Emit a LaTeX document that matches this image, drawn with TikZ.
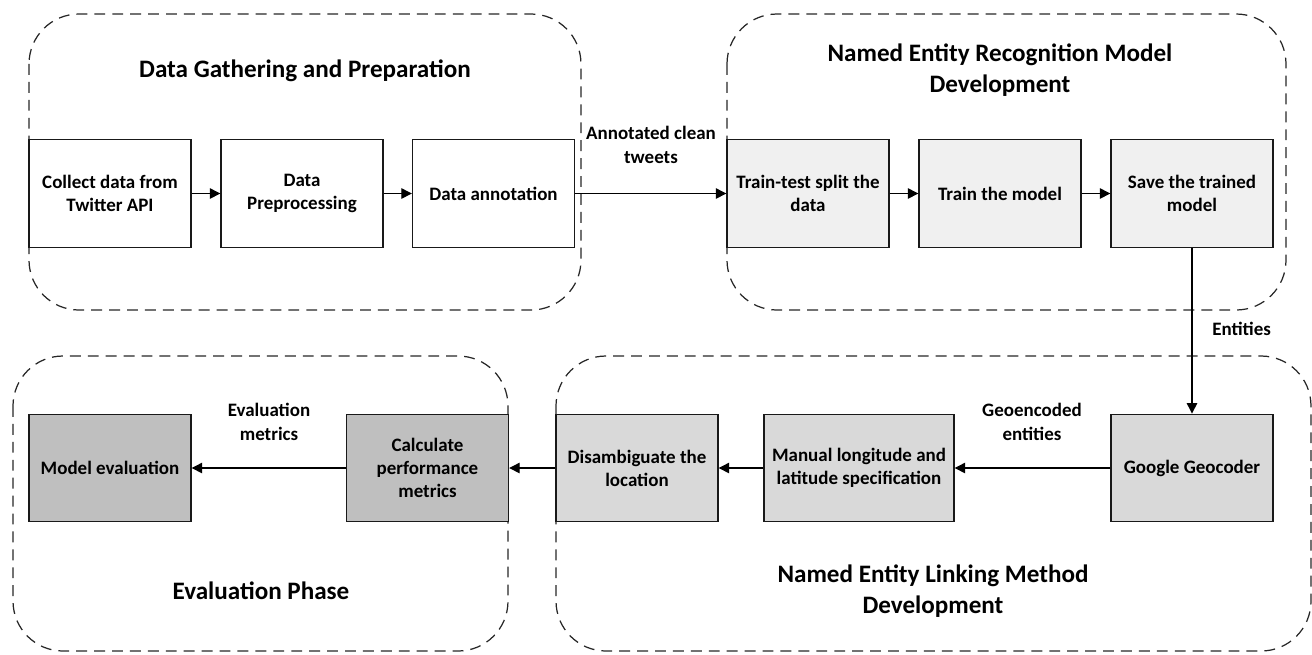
\documentclass[tikz,border=0pt]{standalone}
\usepackage{fontspec}
\setmainfont{Carlito}
\usepackage{xcolor}
\usepackage{tikz}
\usetikzlibrary{arrows.meta}
\tikzset{
    tnode/.style = {align=center, inner sep=0pt, text centered},
    box_node/.style = {tnode, rectangle, draw=black!90, line width=0.8pt, minimum width=3.24cm, minimum height=2.15cm, font=\fontsize{10.8}{13.2}\selectfont\bfseries},
    white_node/.style = {box_node, fill=white},
    light_node/.style = {box_node, fill=black!6},
    mid_node/.style = {box_node, fill=black!15},
    dark_node/.style = {box_node, fill=black!25},
    wide_node/.style = {minimum width=3.8cm},
    phase/.style = {draw=black!85, line width=0.7pt, dash pattern=on 6.2pt off 4pt, rounded corners=1cm},
    phase_title/.style = {tnode, font=\fontsize{14.3}{17.6}\selectfont\bfseries},
    edge_text/.style = {tnode, font=\fontsize{10.8}{13.6}\selectfont\bfseries}
}

\begin{document}
\begin{tikzpicture}
    [x=0.02cm, y=-0.02cm,
    >={Triangle[length=6pt, width=6pt]},
    flow/.style={->, line width=0.7pt, black}]

    \useasboundingbox (0,0) rectangle (1312,654);

    % dashed phases
    \draw [phase] (29,14) rectangle (581,310);
    \draw [phase] (727,14) rectangle (1286,310);
    \draw [phase] (13,356) rectangle (508,651);
    \draw [phase] (556,356) rectangle (1311,651);

    \node [phase_title] (gather_title) at (305,71) {Data Gathering and Preparation};
    \node [phase_title] (ner_title) at (1000,70) {Named Entity Recognition Model\\Development};
    \node [phase_title] (eval_title) at (261,591) {Evaluation Phase};
    \node [phase_title] (nel_title) at (933,591) {Named Entity Linking Method\\Development};

    % top row
    \node [white_node] (collect) at (110,193.5) {Collect data from\\Twitter API};
    \node [white_node] (prep) at (302,193.5) {Data\\Preprocessing};
    \node [white_node] (annot) at (493.5,193.5) {Data annotation};
    \node [light_node] (split) at (808,193.5) {Train-test split the\\data};
    \node [light_node] (train) at (1000,193.5) {Train the model};
    \node [light_node] (save) at (1192,193.5) {Save the trained\\model};

    % bottom row
    \node [dark_node] (model_eval) at (110,468) {Model evaluation};
    \node [dark_node] (metrics) at (427.5,468) {Calculate\\performance\\metrics};
    \node [mid_node] (disamb) at (637,468) {Disambiguate the\\location};
    \node [mid_node, wide_node] (manual) at (859,468) {Manual longitude and\\latitude specification};
    \node [mid_node] (geocoder) at (1192,468) {Google Geocoder};

    \draw [flow] (collect) -- (prep);
    \draw [flow] (prep) -- (annot);
    \draw [flow] (annot) -- (split);
    \draw [flow] (split) -- (train);
    \draw [flow] (train) -- (save);
    \draw [flow] (save) -- (geocoder);
    \draw [flow] (geocoder) -- (manual);
    \draw [flow] (manual) -- (disamb);
    \draw [flow] (disamb) -- (metrics);
    \draw [flow] (metrics) -- (model_eval);

    \node [edge_text] (tweets_text) at (651,145) {Annotated clean\\tweets};
    \node [edge_text, anchor=west] (entities_text) at (1212,329) {Entities};
    \node [edge_text] (geo_text) at (1032,422) {Geoencoded\\entities};
    \node [edge_text] (metrics_text) at (269,422) {Evaluation\\metrics};
\end{tikzpicture}
\end{document}
